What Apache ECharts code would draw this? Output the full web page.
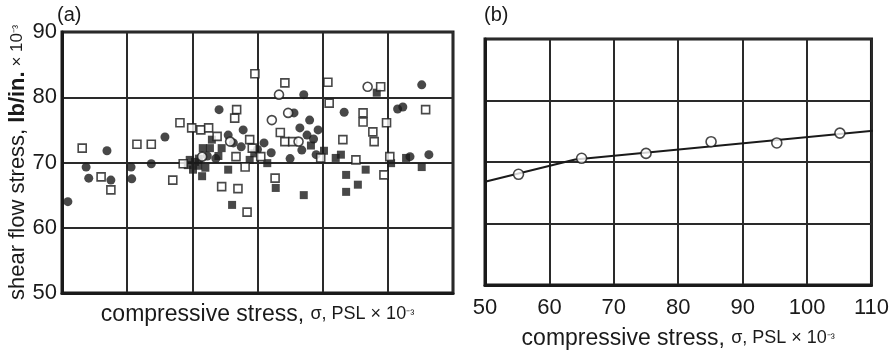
<!DOCTYPE html>
<html>
<head>
<meta charset="utf-8">
<script src="https://cdn.jsdelivr.net/npm/echarts@6/dist/echarts.min.js"></script>
<style>
html,body{margin:0;padding:0;background:#fff;}
#c{width:892px;height:355px;}
</style>
</head>
<body>
<div id="c"></div>
<script>
// ---------- Data ----------
const yTicks = [50, 60, 70, 80, 90];
const xTicks = [50, 60, 70, 80, 90, 100, 110];

// Panel (a) scatter groups [compressive stress, shear flow stress]
const aFilledCircles = [
  [50.9,64.0],[53.7,69.3],[54.1,67.6],[56.9,71.8],[57.5,67.3],[60.6,69.3],[60.7,67.5],
  [63.7,69.8],[65.8,73.9],[74.1,78.1],[77.8,75.0],[75.5,74.2],[85.6,77.6],[87.1,80.4],
  [93.3,77.7],[105.2,81.9],[101.5,78.2],[102.3,78.5],[77.5,72.4],[81.0,73.0],[82.1,71.5],
  [86.8,71.9],[89.0,71.2],[103.4,70.9],[106.3,71.2],[88.0,76.5],[89.3,75.0],[86.5,75.3],
  [72.3,71.0],[73.6,70.6],[76.3,73.0],[87.6,74.2],[88.6,73.6],[80.0,72.0],[85.0,70.6]
];
const aFilledSquares = [
  [69.3,69.6],[70.1,68.9],[70.9,69.5],[71.5,67.9],[69.6,70.4],[71.6,72.2],[72.7,72.2],
  [75.5,68.9],[76.1,63.5],[74.5,72.2],[82.8,66.1],[92.0,70.7],[92.8,71.2],[96.6,68.9],
  [93.6,68.1],[95.4,66.6],[93.6,65.5],[87.1,65.0],[100.5,69.9],[105.2,69.3],[102.8,70.7],
  [98.3,80.7],[73.0,73.5],[78.8,70.4],[70.4,70.1],[71.0,70.6],[72.0,69.2],[74.0,71.0],
  [79.5,71.4],[81.5,69.9],[88.2,72.6],[90.2,71.8]
];
const aOpenSquares = [
  [53.1,72.2],[56.0,67.8],[57.5,65.8],[61.5,72.8],[63.7,72.8],[67.0,67.3],[68.1,76.1],
  [68.6,69.8],[69.9,75.3],[71.3,75.0],[72.5,75.3],[76.8,78.1],[76.5,76.8],[79.6,83.6],
  [84.2,82.2],[74.5,66.3],[77.0,66.0],[78.4,62.4],[78.8,73.5],[78.1,69.3],[80.5,70.9],
  [82.7,67.6],[84.2,73.2],[85.4,73.2],[90.8,82.3],[91.0,79.1],[96.2,77.6],[96.2,76.2],
  [97.7,74.7],[97.9,73.2],[93.1,73.5],[95.1,70.4],[89.7,70.7],[98.9,81.6],[99.8,76.1],
  [100.3,70.9],[99.4,68.1],[105.8,78.1],[76.7,70.9],[73.8,74.0],[79.2,72.2],[83.5,74.6]
];
const aOpenCircles = [
  [82.2,76.5],[83.3,80.4],[84.7,77.6],[96.9,81.6],[86.3,73.2],[71.5,70.9],[75.8,73.2]
];

// Panel (b)
const bPoints = [[55.2,68.0],[65.0,70.6],[75.0,71.4],[85.1,73.3],[95.3,73.1],[105.1,74.7]];
const bFitLine = [[50,66.8],[64,70.4],[111.5,75.2]];

// ---------- Chart ----------
const ink = '#1a1a1a';
const font = '"Liberation Sans", Arial, sans-serif';
const chart = echarts.init(document.getElementById('c'), null, {renderer: 'canvas'});

function yAxis(gridIndex, showLabels, name) {
  return {
    type: 'value', gridIndex, min: yTicks[0], max: yTicks[yTicks.length-1], interval: 10,
    axisLine: {show: true, lineStyle: {color: ink, width: 3}},
    axisTick: {show: false},
    splitLine: {show: true, lineStyle: {color: '#2a2a2a', width: 2}},
    axisLabel: {show: showLabels, color: ink, fontSize: 22, fontFamily: font, margin: 5},
    name: name || '',
    nameLocation: 'middle', nameGap: 27, nameRotate: 90,
    nameTextStyle: {
      color: ink, fontFamily: font,
      rich: {
        a: {fontSize: 22, fontFamily: font, color: ink},
        w: {fontSize: 22, fontFamily: font, color: ink, fontWeight: 'bold'},
        b: {fontSize: 17, fontFamily: font, color: ink},
        s: {fontSize: 12, fontFamily: font, color: ink}
      }
    }
  };
}
function xAxis(gridIndex, showLabels, nameGap) {
  return {
    type: 'value', gridIndex, min: xTicks[0], max: xTicks[xTicks.length-1], interval: 10,
    axisLine: {show: true, onZero: false, lineStyle: {color: ink, width: 3}},
    axisTick: {show: false},
    splitLine: {show: true, lineStyle: {color: '#2a2a2a', width: 2}},
    axisLabel: {show: showLabels, color: ink, fontSize: 22, fontFamily: font, margin: 12},
    name: '{a|compressive stress, }{b|σ, PSL × 10}{s|⁻³}',
    nameLocation: 'middle', nameGap: nameGap,
    nameTextStyle: {
      color: ink, fontFamily: font,
      rich: {
        a: {fontSize: 23, fontFamily: font, color: ink},
        b: {fontSize: 18, fontFamily: font, color: ink},
        s: {fontSize: 12, fontFamily: font, color: ink}
      }
    }
  };
}

const xA = xAxis(0, false, 10);
const xB = xAxis(1, true, 42);
const yA = yAxis(0, true, '{a|shear flow stress, }{w|lb/in.}{b| × 10}{s|⁻³}');
const yB = yAxis(1, false, '');

const sq = 'rect';
chart.setOption({
  animation: false,
  backgroundColor: '#fff',
  grid: [
    {left: 62, top: 32, right: 439, bottom: 62, show: true, borderColor: ink, borderWidth: 3},
    {left: 485, top: 39, right: 14, bottom: 60, show: true, borderColor: ink, borderWidth: 3}
  ],
  xAxis: [xA, xB],
  yAxis: [yA, yB],
  graphic: [
    {type: 'text', left: 57, top: 5, style: {text: '(a)', font: '20px ' + font, fill: ink}},
    {type: 'text', left: 484, top: 5, style: {text: '(b)', font: '20px ' + font, fill: ink}}
  ],
  series: [
    {type: 'scatter', xAxisIndex: 0, yAxisIndex: 0, data: aFilledSquares, symbol: sq, symbolSize: 8,
      itemStyle: {color: ink}},
    {type: 'scatter', xAxisIndex: 0, yAxisIndex: 0, data: aFilledCircles, symbol: 'circle', symbolSize: 9,
      itemStyle: {color: ink}},
    {type: 'scatter', xAxisIndex: 0, yAxisIndex: 0, data: aOpenSquares, symbol: sq, symbolSize: 8,
      itemStyle: {color: '#fff', borderColor: ink, borderWidth: 1.6}},
    {type: 'scatter', xAxisIndex: 0, yAxisIndex: 0, data: aOpenCircles, symbol: 'circle', symbolSize: 9,
      itemStyle: {color: '#fff', borderColor: ink, borderWidth: 1.6}},
    {type: 'line', xAxisIndex: 1, yAxisIndex: 1, data: bFitLine, symbol: 'none', clip: false,
      lineStyle: {color: ink, width: 2}},
    {type: 'scatter', xAxisIndex: 1, yAxisIndex: 1, data: bPoints, symbol: 'circle', symbolSize: 10,
      itemStyle: {color: '#fff', borderColor: ink, borderWidth: 1.6}, z: 5}
  ]
});
</script>
</body>
</html>
